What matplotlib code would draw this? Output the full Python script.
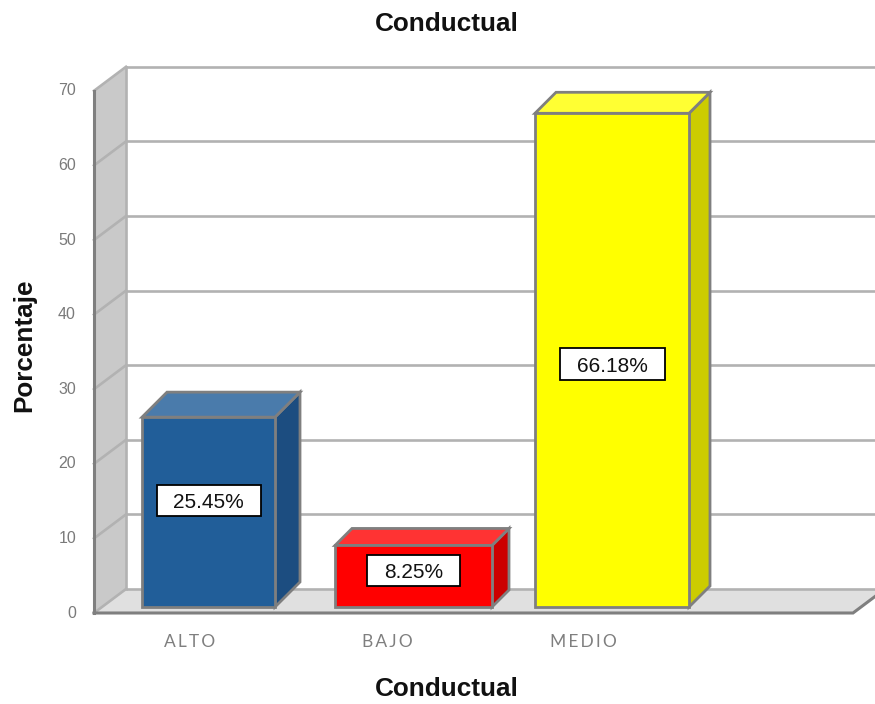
import numpy as np
import matplotlib
matplotlib.use("Agg")
import matplotlib.pyplot as plt

# ---------------------------
# DATA
# ---------------------------
categories = ["ALTO", "BAJO", "MEDIO"]
values = [25.45, 8.25, 66.18]
y_ticks = [0, 10, 20, 30, 40, 50, 60, 70]

# ---------------------------
# LAYOUT (x in pixels, y in axis units)
# ---------------------------
W, H = 875, 704
PX = 7.46            # pixels per percent
Y0 = 613             # pixel row of value 0 on the front plane
WALL_X0, WALL_X1 = 94, 126
FLOOR_RIGHT = 853
BACK_DY = 24 / PX
BASE = 6 / PX        # bars sit slightly behind the axis line

bar_left = [142, 335, 535]
bar_right = [275, 492, 689]
bar_depth = [25, 17, 21]
bar_front = ["#215e99", "#ff0000", "#ffff00"]
bar_top = ["#4a7bab", "#ff3333", "#ffff33"]
bar_side = ["#1c4d80", "#cc0000", "#cccc00"]
box_shift = [2.4, 1.6, 0.3]
box_width = [104, 93, 105]
cat_x = [190, 387, 583]

LINE = "#7f7f7f"
GRID = "#b2b2b2"

plt.rcParams["font.family"] = ["Liberation Sans", "DejaVu Sans"]

fig = plt.figure(figsize=(W / 100, H / 100), dpi=100)
ax = fig.add_axes([0, 0, 1, 1])
ax.set_xlim(0, W)
ax.set_ylim(-(H - Y0) / PX, Y0 / PX)
ax.axis("off")

# ---------------------------
# WALL, FLOOR, GRID
# ---------------------------
top = y_ticks[-1]
ax.fill([WALL_X0, WALL_X1, WALL_X1, WALL_X0],
        [0, BACK_DY, top + BACK_DY, top], color="#c9c9c9", lw=0, zorder=1)
ax.fill([WALL_X0, FLOOR_RIGHT, FLOOR_RIGHT + 32, WALL_X1],
        [0, 0, BACK_DY, BACK_DY], color="#e0e0e0", lw=0, zorder=1)

for t in y_ticks:
    ax.plot([WALL_X1, W], [t + BACK_DY, t + BACK_DY], color=GRID, lw=1.9, zorder=2,
            solid_capstyle="butt")
    ax.plot([WALL_X0, WALL_X1], [t, t + BACK_DY], color=GRID, lw=1.9, zorder=2)
    ax.text(76, t, str(t), color="#7a7a7a", fontsize=11.5, ha="right", va="center")

ax.plot([WALL_X1, WALL_X1], [0 + BACK_DY, top + BACK_DY], color=GRID, lw=1.9, zorder=2)
ax.plot([WALL_X0, WALL_X0], [0, top], color=LINE, lw=2.2, zorder=3)
ax.plot([WALL_X0, FLOOR_RIGHT, FLOOR_RIGHT + 32], [0, 0, BACK_DY], color=LINE, lw=2.2,
        zorder=3, solid_joinstyle="miter")

# ---------------------------
# BARS
# ---------------------------
for i, v in enumerate(values):
    x0, x1, d = bar_left[i], bar_right[i], bar_depth[i]
    dy = d / PX
    y0 = BASE
    y1 = BASE + v
    ax.fill([x1, x1 + d, x1 + d, x1], [y0, y0 + dy, y1 + dy, y1],
            facecolor=bar_side[i], edgecolor=LINE, lw=2, zorder=4)
    ax.fill([x0, x1, x1 + d, x0 + d], [y1, y1, y1 + dy, y1 + dy],
            facecolor=bar_top[i], edgecolor=LINE, lw=2, zorder=4)
    ax.bar(x0, v, width=x1 - x0, bottom=y0, align="edge",
           facecolor=bar_front[i], edgecolor=LINE, lw=2, zorder=5)

    # value box centred on the bar
    xc = (x0 + x1) / 2
    yc = v / 2 + box_shift[i]
    bw = box_width[i]
    ax.fill([xc - bw / 2, xc + bw / 2, xc + bw / 2, xc - bw / 2],
            [yc - 2.1, yc - 2.1, yc + 2.1, yc + 2.1],
            facecolor="white", edgecolor="black", lw=1.3, zorder=6)
    ax.text(xc, yc - 0.3, f"{v:.2f}%", fontsize=15, color="#111111", ha="center",
            va="center", zorder=7)

    label = "\u2009".join(categories[i])
    ax.text(cat_x[i], -29 / PX, label, family=["Lato", "DejaVu Sans"], fontsize=12.5,
            color="#7f7f7f", ha="center", va="center")

# ---------------------------
# TITLES
# ---------------------------
ax.text(447, (Y0 - 24) / PX, "Conductual", fontsize=18.8, fontweight="bold",
        ha="center", va="center", color="#111111")
ax.text(447, (Y0 - 689) / PX, "Conductual", fontsize=18.8, fontweight="bold",
        ha="center", va="center", color="#111111")
ax.text(24, (Y0 - 345) / PX, "Porcentaje", fontsize=18.8, fontweight="bold",
        rotation=90, ha="center", va="center", color="#111111")

fig.savefig("out.png", dpi=100)
